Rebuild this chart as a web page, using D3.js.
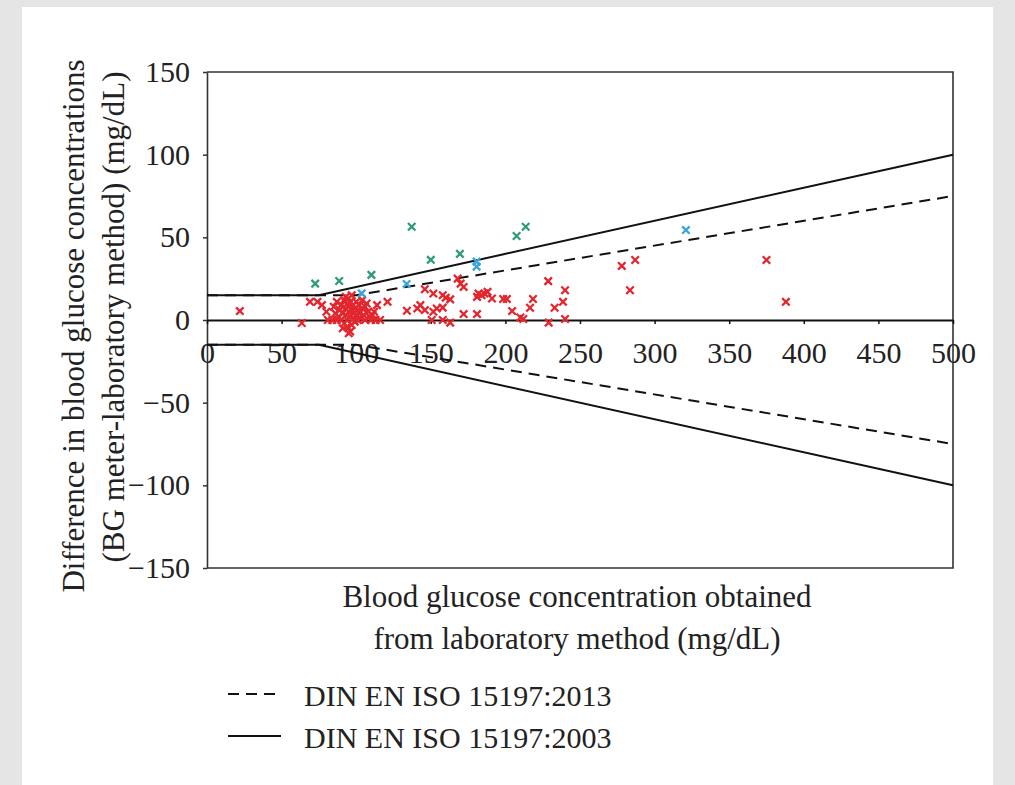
<!DOCTYPE html>
<html lang="en">
<head>
  <meta charset="UTF-8">
  <title>BG meter difference plot</title>
  <script src="https://cdn.jsdelivr.net/npm/d3@7"></script>
  <style>
    body { margin: 0; background: #e5e5e5; }
    svg text { font-family: "Liberation Serif", "DejaVu Serif", serif; fill: #222; }
  </style>
</head>
<body>
<div id="app"></div>
<script>
  // tick labels
  const xTicks = [0, 50, 100, 150, 200, 250, 300, 350, 400, 450, 500];
  const yTicks = [-150, -100, -50, 0, 50, 100, 150];

  // accuracy limits (lab value, allowed difference)
  const upper2003 = [[0, 15], [75, 15], [500, 100]];
  const lower2003 = [[0, -15], [75, -15], [500, -100]];
  const upper2013 = [[0, 15], [100, 15], [500, 75]];
  const lower2013 = [[0, -15], [100, -15], [500, -75]];

  // measurements [lab value, difference]
  const redPoints = [
    [22, 5.4], [63.5, -1.8], [69, 11], [74, 11], [77, 9], [80, 5], [81, 0], [84, 0], [87, 11],
    [85, 8], [86, 4], [87, 0], [88, 2], [89, 6], [90, 9], [90, 0], [91, 4], [91, -5], [92, 12], [92, -2],
    [93, 7], [93, 3], [93, 14], [94, 10], [94, 0], [94, -4], [95, 5], [95, 13], [95, 8], [95, -8],
    [96, 2], [96, -7], [96, 11], [97, 6], [97, -3], [97, 15], [98, 9], [98, 1], [98, 4], [99, 7],
    [99, -1], [100, 11], [100, 3], [101, 6], [101, 0], [102, 9], [102, 4], [103, 1], [104, 7], [104, 12],
    [105, 3], [106, 0], [106, 8], [107, 10], [108, 5], [109, 2], [110, 0], [111, 3], [112, 5], [113, 0],
    [114, 9], [116, 0], [121, 11],
    [134, 5.6], [141, 7], [143, 9], [146, 6], [146, 18.6], [150.6, 0], [151.7, 16], [151.7, 5], [154, 7],
    [158, 15], [158, 7.5], [158, 0], [160, 13.5], [163, 12.5], [163, -1.6],
    [168, 25], [170, 22], [172, 20], [172, 3.6], [181, 3.6], [181, 14], [182, 16], [184, 15], [186, 16],
    [188, 17], [191, 13], [198.5, 12.7], [201, 12.7], [204.5, 5.4], [210, 1.5], [212, 0.6], [216.5, 7.4],
    [218.5, 12.7], [228.7, 23.5], [229, -1.6], [233, 7.4], [238.6, 11], [240, 18], [240, 0.6],
    [278, 32.7], [283.5, 18], [287, 36.3], [375, 36.3], [388, 11]
  ];
  const greenPoints = [
    [72.5, 22], [88.6, 23.6], [110.2, 27.3], [137.2, 56.4], [150, 36.4], [169.5, 40], [207.5, 50.8], [213.6, 56.4]
  ];
  const bluePoints = [
    [103.7, 16.1], [133.8, 21.8], [180.7, 35.3], [180.7, 32.3], [321, 54.4]
  ];

  const W = 1015, H = 785;
  const plot = { left: 207, right: 953, top: 72, bottom: 568 };

  const svg = d3.select('#app').append('svg')
    .attr('width', W)
    .attr('height', H);

  svg.append('rect')
    .attr('x', 22).attr('y', 7)
    .attr('width', 971).attr('height', H - 7)
    .attr('fill', '#ffffff');

  const x = d3.scaleLinear().domain([0, 500]).range([plot.left, plot.right]);
  const y = d3.scaleLinear().domain([-150, 150]).range([plot.bottom, plot.top]);

  // frame
  svg.append('path')
    .attr('d', `M${plot.left},${plot.top}H${plot.right}V${plot.bottom}H${plot.left}`)
    .attr('fill', 'none')
    .attr('stroke', '#333')
    .attr('stroke-width', 1.6);

  const yAxis = svg.append('g')
    .attr('transform', `translate(${plot.left},0)`)
    .call(d3.axisLeft(y).tickValues(yTicks).tickSize(4).tickSizeOuter(0).tickPadding(13));
  yAxis.select('.domain').attr('stroke', '#333').attr('stroke-width', 1.6);
  yAxis.selectAll('.tick line').attr('stroke', '#333').attr('stroke-width', 1.5);
  yAxis.selectAll('text')
    .style('font-size', '30px')
    .style('font-family', '"Liberation Serif", serif')
    .attr('fill', '#222');

  const xAxis = svg.append('g')
    .attr('transform', `translate(0,${y(0)})`)
    .call(d3.axisBottom(x).tickValues(xTicks).tickSize(4).tickSizeOuter(0));
  xAxis.select('.domain').attr('stroke', '#111').attr('stroke-width', 2);
  xAxis.selectAll('.tick line').attr('stroke', '#111').attr('stroke-width', 1.5);
  xAxis.selectAll('text')
    .attr('y', 43)
    .attr('dy', null)
    .style('font-size', '30px')
    .style('font-family', '"Liberation Serif", serif')
    .attr('fill', '#222');

  // limit lines
  const line = d3.line().x(d => x(d[0])).y(d => y(d[1]));
  [upper2013, lower2013].forEach(data => {
    svg.append('path')
      .attr('d', line(data))
      .attr('fill', 'none')
      .attr('stroke', '#111')
      .attr('stroke-width', 2)
      .attr('stroke-dasharray', '11,7');
  });
  [upper2003, lower2003].forEach(data => {
    svg.append('path')
      .attr('d', line(data))
      .attr('fill', 'none')
      .attr('stroke', '#111')
      .attr('stroke-width', 2);
  });

  // markers
  const cross = d3.symbol().type(d3.symbolTimes).size(38);
  function drawPoints(data, color) {
    svg.append('g').selectAll('path')
      .data(data)
      .enter()
      .append('path')
      .attr('d', cross)
      .attr('transform', d => `translate(${x(d[0])},${y(d[1])})`)
      .attr('fill', 'none')
      .attr('stroke', color)
      .attr('stroke-width', 2.3);
  }
  drawPoints(redPoints, '#e3262e');
  drawPoints(greenPoints, '#2f9d74');
  drawPoints(bluePoints, '#3aa6d6');

  // axis titles
  const yTitle = svg.append('text')
    .attr('transform', 'rotate(-90)')
    .attr('text-anchor', 'middle')
    .style('font-size', '31px');
  yTitle.append('tspan').attr('x', -326).attr('y', 84).text('Difference in blood glucose concentrations');
  yTitle.append('tspan').attr('x', -317).attr('y', 124).text('(BG meter-laboratory method) (mg/dL)');

  svg.append('text')
    .attr('x', 577).attr('y', 607)
    .attr('text-anchor', 'middle')
    .style('font-size', '31px')
    .text('Blood glucose concentration obtained');
  svg.append('text')
    .attr('x', 577).attr('y', 649)
    .attr('text-anchor', 'middle')
    .style('font-size', '31px')
    .text('from laboratory method (mg/dL)');

  // legend
  const legend = [
    { label: 'DIN EN ISO 15197:2013', dash: '11,7', y: 694 },
    { label: 'DIN EN ISO 15197:2003', dash: null, y: 736 }
  ];
  legend.forEach(item => {
    svg.append('line')
      .attr('x1', 228).attr('x2', 281)
      .attr('y1', item.y).attr('y2', item.y)
      .attr('stroke', '#111')
      .attr('stroke-width', 2)
      .attr('stroke-dasharray', item.dash);
    svg.append('text')
      .attr('x', 304).attr('y', item.y + 12)
      .style('font-size', '30px')
      .text(item.label);
  });
</script>
</body>
</html>
